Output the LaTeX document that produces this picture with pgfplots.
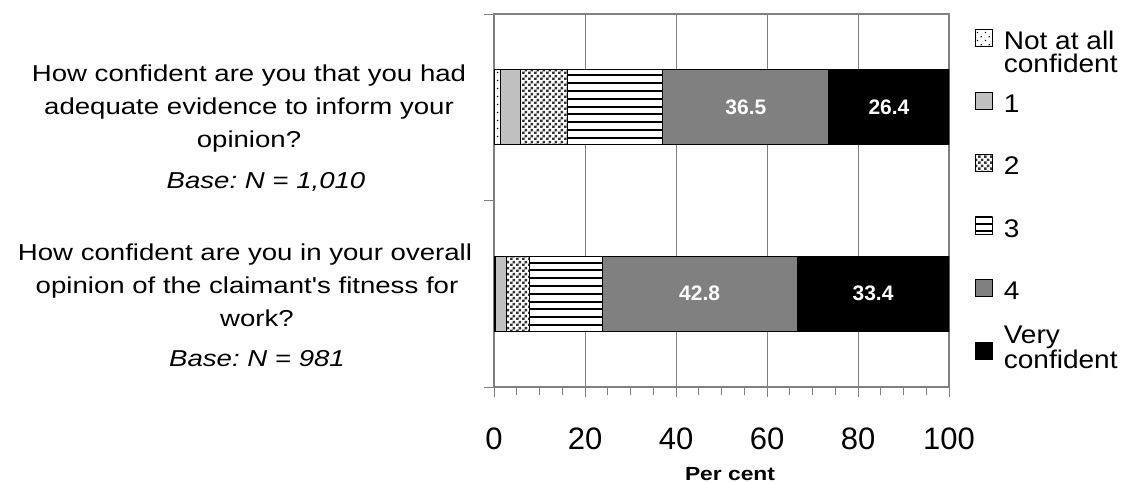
\documentclass[border=0pt]{standalone}
\usepackage{fontspec}
\setmainfont{Liberation Sans}
\newfontfamily\qfont{Liberation Sans}[FakeStretch=1.2]
\newfontfamily\lfont{Liberation Sans}[FakeStretch=1.1]
\usepackage{pgfplots}
\usepackage{pgfplotstable}
\pgfplotsset{compat=1.18}
\usetikzlibrary{patterns}
\frenchspacing

\pgfdeclarepatternformonly{sparsedots}{\pgfqpoint{0pt}{0pt}}{\pgfqpoint{8pt}{8pt}}{\pgfqpoint{8pt}{8pt}}{%
  \pgfpathrectangle{\pgfqpoint{1pt}{1pt}}{\pgfqpoint{1.4pt}{1.4pt}}%
  \pgfpathrectangle{\pgfqpoint{5pt}{5pt}}{\pgfqpoint{1.4pt}{1.4pt}}%
  \pgfusepath{fill}}
\pgfdeclarepatternformonly{densedots}{\pgfqpoint{0pt}{0pt}}{\pgfqpoint{6pt}{6pt}}{\pgfqpoint{6pt}{6pt}}{%
  \pgfpathrectangle{\pgfqpoint{0.1pt}{0.1pt}}{\pgfqpoint{2.8pt}{2.8pt}}%
  \pgfpathrectangle{\pgfqpoint{3.1pt}{3.1pt}}{\pgfqpoint{2.8pt}{2.8pt}}%
  \pgfusepath{fill}}
\pgfdeclarepatternformonly{hstripes}{\pgfqpoint{-1pt}{-0.5pt}}{\pgfqpoint{9pt}{2.5pt}}{\pgfqpoint{8pt}{7.8pt}}{%
  \pgfpathrectangle{\pgfqpoint{-1pt}{0pt}}{\pgfqpoint{10pt}{1.9pt}}%
  \pgfusepath{fill}}

\definecolor{axgray}{HTML}{808080}
\definecolor{lgray}{HTML}{C0C0C0}
\definecolor{mgray}{HTML}{808080}

% y = 1: adequate evidence (N = 1,010); y = 0: overall opinion (N = 981)
\pgfplotstableread{
y notatall one two three four very
0 0.4 2.3 5.1 16.0 42.8 33.4
1 1.5 4.4 10.3 20.9 36.5 26.4
}\datatable

\begin{document}
\begin{tikzpicture}
\begin{axis}[
  at={(494pt,-387pt)}, anchor=south west,
  scale only axis, width=455pt, height=373pt,
  xbar stacked, bar width=75pt,
  xmin=0, xmax=100, ymin=-0.5, ymax=1.5,
  xtick={0,20,...,100}, minor x tick num=3,
  ytick={-0.5,0.5,1.5}, yticklabels={},
  tick align=outside, xtick pos=left, ytick pos=left,
  major tick length=10pt, minor tick length=8pt,
  every tick/.style={axgray, line width=1pt},
  every minor tick/.style={axgray, line width=1pt},
  axis line style={axgray, line width=1.3pt},
  xmajorgrids, major grid style={axgray, line width=0.9pt},
  /pgf/number format/assume math mode=true,
  xticklabel style={font=\fontsize{31}{31}\selectfont, anchor=base, inner sep=0pt, yshift=-52pt},
  xlabel={Per cent},
  xlabel style={at={(axis description cs:0.5187,0)}, anchor=base, inner sep=0pt, yshift=-93pt,
                font=\qfont\bfseries\fontsize{19}{19}\selectfont},
  every axis plot/.append style={draw=black, line width=0.8pt},
  legend cell align=left,
  legend style={at={(axis description cs:1.05714,0.95979)}, anchor=north west,
    draw=none, fill=none, inner sep=0pt, outer sep=0pt,
    row sep=37.6pt, column sep=11pt,
    nodes={inner sep=0pt, text height=18pt, text depth=4pt},
    font=\lfont\fontsize{25.5}{23}\selectfont},
  legend image code/.code={\draw[#1, line width=0.8pt] (0pt,-3.5pt) rectangle (17pt,13.5pt);},
  lbl/.style={
    nodes near coords={\pgfmathprintnumber[fixed,precision=1,fixed zerofill]{\pgfplotspointmeta}},
    point meta=explicit,
    nodes near coords style={anchor=center, text=white, inner sep=0pt,
      font=\bfseries\fontsize{21}{21}\selectfont},
  },
]
\addplot[fill=white, postaction={pattern=sparsedots, pattern color=black}] table[x=notatall, y=y] {\datatable};
\addlegendentry{\smash{\parbox[t]{120pt}{\raggedright Not at all\\confident}}}
\addplot[fill=lgray] table[x=one, y=y] {\datatable};
\addlegendentry{1}
\addplot[fill=white, postaction={pattern=densedots, pattern color=black!80}] table[x=two, y=y] {\datatable};
\addlegendentry{2}
\addplot[fill=white, postaction={pattern=hstripes, pattern color=black}] table[x=three, y=y] {\datatable};
\addlegendentry{3}
\addplot[fill=mgray, lbl] table[x=four, y=y, meta=four] {\datatable};
\addlegendentry{4}
\addplot[fill=black, lbl] table[x=very, y=y, meta=very] {\datatable};
\addlegendentry{\raisebox{-6pt}{\smash{\parbox[b]{120pt}{\raggedright Very\\confident}}}}
\end{axis}

\begin{scope}[every node/.style={inner sep=0pt, anchor=base, font=\qfont\fontsize{23}{23}\selectfont}]
\node at (249pt,-81pt) {How confident are you that you had};
\node at (249pt,-114pt) {adequate evidence to inform your};
\node at (249pt,-147pt) {opinion?};
\node at (266pt,-188pt) {\itshape Base: N = 1,010};
\node at (245pt,-260pt) {How confident are you in your overall};
\node at (247pt,-293pt) {opinion of the claimant's fitness for};
\node at (257pt,-326pt) {work?};
\node at (257pt,-366pt) {\itshape Base: N = 981};
\end{scope}
\pgfresetboundingbox
\useasboundingbox (0,0) rectangle (1126pt,-482pt);
\end{tikzpicture}
\end{document}
